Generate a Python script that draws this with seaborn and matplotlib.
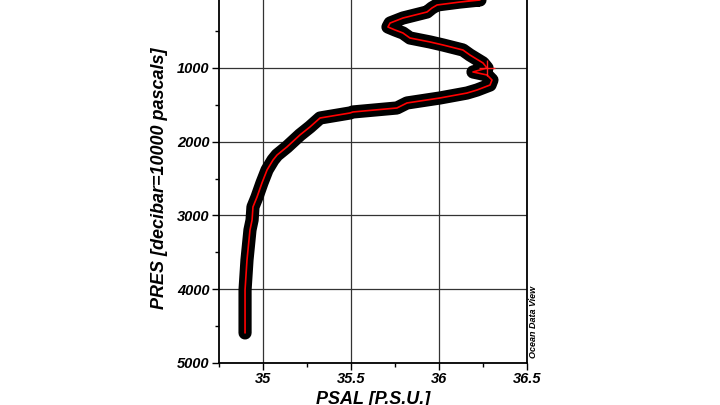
import matplotlib
matplotlib.use('Agg')
import matplotlib.pyplot as plt
import numpy as np
import pandas as pd
import seaborn as sns
from matplotlib.ticker import MultipleLocator

# salinity profile (PSAL vs PRES)
psal = [35.778, 36.233, 36.119, 35.989, 35.960, 35.932, 35.795, 35.722, 35.710,
        35.750, 35.795, 35.835, 35.949, 36.023, 36.136, 36.176, 36.250, 36.273,
        36.193, 36.273, 36.301, 36.290, 36.216, 36.159, 36.006, 35.818, 35.761,
        35.511, 35.494, 35.324, 35.267, 35.210, 35.136, 35.080, 35.057, 35.023,
        34.994, 34.966, 34.943, 34.938, 34.926, 34.909, 34.898, 34.898, 34.898]
pres = [30, 77, 105, 145, 186, 240, 322, 390, 444,
        484, 525, 593, 647, 688, 756, 824, 932, 1000,
        1054, 1095, 1163, 1231, 1299, 1340, 1407, 1475, 1543,
        1597, 1611, 1679, 1800, 1909, 2072, 2181, 2249, 2384,
        2561, 2751, 2886, 3063, 3199, 3606, 4013, 4556, 4596]

# highlighted sample
mark_psal = [36.273]
mark_pres = [1000]

x_ticks = [35, 35.5, 36, 36.5]
x_labels = ['35', '35.5', '36', '36.5']
y_ticks = [0, 1000, 2000, 3000, 4000, 5000]
y_labels = ['0', '1000', '2000', '3000', '4000', '5000']

df = pd.DataFrame({'PSAL': psal, 'PRES': pres})

sns.set_style('white')
plt.rcParams['font.family'] = ['Liberation Sans', 'DejaVu Sans']
plt.rcParams['text.color'] = 'black'
plt.rcParams['axes.labelcolor'] = 'black'
plt.rcParams['xtick.color'] = 'black'
plt.rcParams['ytick.color'] = 'black'

fig = plt.figure(figsize=(7.2, 4.05), dpi=100)
ax = fig.add_axes([219 / 720, 42.3 / 405, 308 / 720, 368.4 / 405])

# thick black band (all samples) and thin red profile on top
sns.lineplot(data=df, x='PSAL', y='PRES', sort=False, estimator=None, errorbar=None,
             ax=ax, color='black', linewidth=9.5, solid_capstyle='round',
             solid_joinstyle='round', zorder=3)
sns.lineplot(data=df, x='PSAL', y='PRES', sort=False, estimator=None, errorbar=None,
             ax=ax, color='#ff0000', linewidth=1.2, zorder=4)
ax.scatter(mark_psal, mark_pres, marker='+', s=120, color='#ff2020', linewidths=1, zorder=5)

ax.set_xlim(34.75, 36.5)
ax.set_ylim(5000, 0)
ax.set_xticks(x_ticks)
ax.set_xticklabels(x_labels)
ax.set_yticks(y_ticks)
ax.set_yticklabels(y_labels)
ax.xaxis.set_minor_locator(MultipleLocator(0.25))
ax.yaxis.set_minor_locator(MultipleLocator(500))
ax.tick_params(which='major', direction='out', length=5, width=1, color='black',
               labelsize=10.5, pad=2, bottom=True, left=True, labelcolor='black')
ax.tick_params(which='minor', direction='out', length=3, width=1, color='black',
               bottom=True, left=True)
for lab in ax.get_xticklabels() + ax.get_yticklabels():
    lab.set_fontweight('bold')
    lab.set_fontstyle('italic')

ax.grid(True, which='major', color='#333333', linewidth=0.9)
ax.set_axisbelow(True)
for s in ax.spines.values():
    s.set_color('black')
    s.set_linewidth(1.3)

ax.set_xlabel('PSAL [P.S.U.]', fontsize=13, fontweight='bold', fontstyle='italic',
              labelpad=3, color='black')
ax.set_ylabel('PRES [decibar=10000 pascals]', fontsize=13, fontweight='bold',
              fontstyle='italic', labelpad=6, color='black')

fig.text(533 / 720, 47 / 405, 'Ocean Data View', rotation=90, ha='center', va='bottom',
         fontsize=6.5, fontweight='bold', fontstyle='italic', color='black')

fig.savefig('out.png', dpi=100)
